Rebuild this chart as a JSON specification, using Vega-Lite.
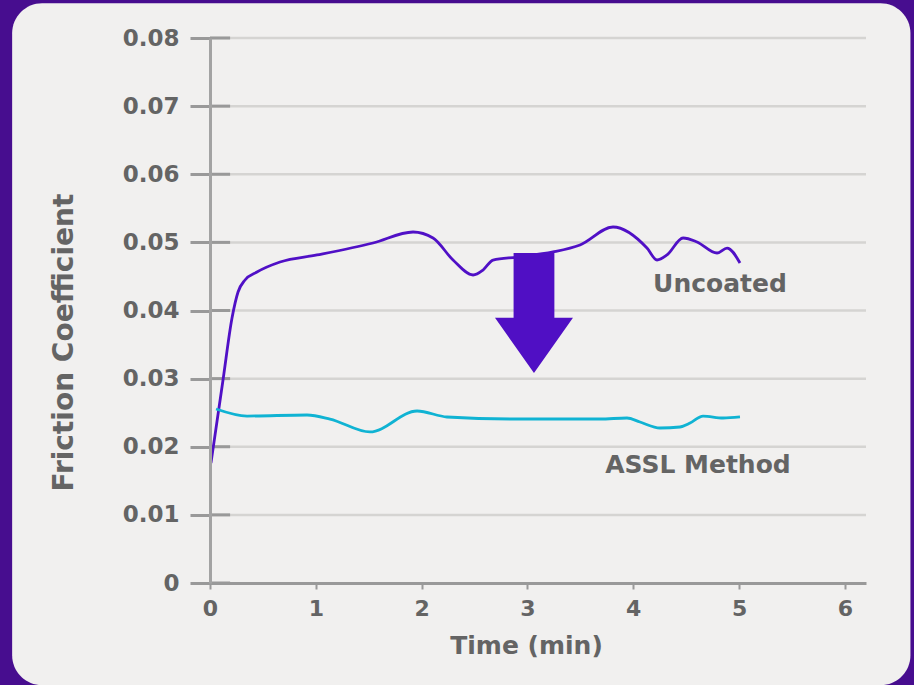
{
  "$schema": "https://vega.github.io/schema/vega-lite/v6.json",
  "autosize": "none",
  "width": 656,
  "height": 545,
  "padding": {"left": 210, "top": 38, "right": 48, "bottom": 102},
  "background": "#470d8f",
  "config": {
    "font": "DejaVu Sans",
    "view": {"stroke": null}
  },
  "datasets": {
    "panel": [{"x": -1.87, "x2": 6.62, "y": 0.0851, "y2": -0.0150}],
    "grid": [
      {"y": 0.01, "x": 0, "x2": 6.2}, {"y": 0.02, "x": 0, "x2": 6.2},
      {"y": 0.03, "x": 0, "x2": 6.2}, {"y": 0.04, "x": 0, "x2": 6.2},
      {"y": 0.05, "x": 0, "x2": 6.2}, {"y": 0.06, "x": 0, "x2": 6.2},
      {"y": 0.07, "x": 0, "x2": 6.2}, {"y": 0.08, "x": 0, "x2": 6.2}
    ],
    "ticks": [
      {"y": 0, "x": 0, "x2": 0.19}, {"y": 0.01, "x": 0, "x2": 0.19},
      {"y": 0.02, "x": 0, "x2": 0.19}, {"y": 0.03, "x": 0, "x2": 0.19},
      {"y": 0.04, "x": 0, "x2": 0.19}, {"y": 0.05, "x": 0, "x2": 0.19},
      {"y": 0.06, "x": 0, "x2": 0.19}, {"y": 0.07, "x": 0, "x2": 0.19},
      {"y": 0.08, "x": 0, "x2": 0.19}
    ],
    "series": [
      {"series": "Uncoated", "x": 0.009, "y": 0.01761},
      {"series": "Uncoated", "x": 0.123, "y": 0.0298},
      {"series": "Uncoated", "x": 0.208, "y": 0.0389},
      {"series": "Uncoated", "x": 0.265, "y": 0.04272},
      {"series": "Uncoated", "x": 0.331, "y": 0.04448},
      {"series": "Uncoated", "x": 0.444, "y": 0.04565},
      {"series": "Uncoated", "x": 0.662, "y": 0.04712},
      {"series": "Uncoated", "x": 1.011, "y": 0.04815},
      {"series": "Uncoated", "x": 1.541, "y": 0.04991},
      {"series": "Uncoated", "x": 1.919, "y": 0.05152},
      {"series": "Uncoated", "x": 2.108, "y": 0.05064},
      {"series": "Uncoated", "x": 2.297, "y": 0.04741},
      {"series": "Uncoated", "x": 2.486, "y": 0.04521},
      {"series": "Uncoated", "x": 2.58, "y": 0.04594},
      {"series": "Uncoated", "x": 2.675, "y": 0.04741},
      {"series": "Uncoated", "x": 2.902, "y": 0.04785},
      {"series": "Uncoated", "x": 3.242, "y": 0.04859},
      {"series": "Uncoated", "x": 3.497, "y": 0.04962},
      {"series": "Uncoated", "x": 3.809, "y": 0.05226},
      {"series": "Uncoated", "x": 4.13, "y": 0.04917},
      {"series": "Uncoated", "x": 4.225, "y": 0.04741},
      {"series": "Uncoated", "x": 4.319, "y": 0.04815},
      {"series": "Uncoated", "x": 4.471, "y": 0.05064},
      {"series": "Uncoated", "x": 4.603, "y": 0.05006},
      {"series": "Uncoated", "x": 4.792, "y": 0.04844},
      {"series": "Uncoated", "x": 4.887, "y": 0.04917},
      {"series": "Uncoated", "x": 5.009, "y": 0.04697},
      {"series": "ASSL Method", "x": 0.057, "y": 0.02554},
      {"series": "ASSL Method", "x": 0.35, "y": 0.02451},
      {"series": "ASSL Method", "x": 0.917, "y": 0.02466},
      {"series": "ASSL Method", "x": 1.134, "y": 0.02407},
      {"series": "ASSL Method", "x": 1.512, "y": 0.02217},
      {"series": "ASSL Method", "x": 1.957, "y": 0.02525},
      {"series": "ASSL Method", "x": 2.24, "y": 0.02437},
      {"series": "ASSL Method", "x": 2.864, "y": 0.02407},
      {"series": "ASSL Method", "x": 3.497, "y": 0.02407},
      {"series": "ASSL Method", "x": 3.686, "y": 0.02407},
      {"series": "ASSL Method", "x": 3.941, "y": 0.02422},
      {"series": "ASSL Method", "x": 4.064, "y": 0.02363},
      {"series": "ASSL Method", "x": 4.253, "y": 0.02275},
      {"series": "ASSL Method", "x": 4.442, "y": 0.0229},
      {"series": "ASSL Method", "x": 4.537, "y": 0.02348},
      {"series": "ASSL Method", "x": 4.66, "y": 0.02451},
      {"series": "ASSL Method", "x": 4.849, "y": 0.02422},
      {"series": "ASSL Method", "x": 5.009, "y": 0.02437}
    ],
    "arrow": [{"x": 3.062, "y": 0.03963}],
    "labels": [
      {"label": "Uncoated", "x": 4.82, "y": 0.04389},
      {"label": "ASSL Method", "x": 4.612, "y": 0.01732}
    ]
  },
  "encoding": {
    "x": {
      "field": "x",
      "type": "quantitative",
      "scale": {"domain": [0, 6.2], "nice": false, "zero": false},
      "axis": {
        "zindex": 1,
        "values": [0, 1, 2, 3, 4, 5, 6],
        "title": "Time (min)",
        "grid": false,
        "labelFlush": false,
        "domainColor": "#999999",
        "domainWidth": 3,
        "tickColor": "#999999",
        "tickWidth": 2,
        "tickSize": 6,
        "labelFont": "DejaVu Sans",
        "labelFontWeight": "bold",
        "labelFontSize": 22,
        "labelColor": "#646464",
        "labelPadding": 9,
        "titleFont": "DejaVu Sans",
        "titleFontWeight": "bold",
        "titleFontSize": 25,
        "titleColor": "#646464",
        "titlePadding": 14,
        "titleX": 316
      }
    },
    "y": {
      "field": "y",
      "type": "quantitative",
      "scale": {"domain": [0, 0.08], "nice": false, "zero": false},
      "axis": {
        "zindex": 1,
        "values": [0, 0.01, 0.02, 0.03, 0.04, 0.05, 0.06, 0.07, 0.08],
        "labelExpr": "datum.value == 0 ? '0' : format(datum.value, '.2f')",
        "title": "Friction Coefficient",
        "grid": false,
        "domainColor": "#a3a3a3",
        "domainWidth": 3,
        "tickColor": "#999999",
        "tickWidth": 3,
        "tickSize": 20,
        "labelFont": "DejaVu Sans",
        "labelFontWeight": "bold",
        "labelFontSize": 23,
        "labelColor": "#646464",
        "labelPadding": 11,
        "titleFont": "DejaVu Sans",
        "titleFontWeight": "bold",
        "titleFontSize": 28,
        "titleColor": "#646464",
        "titlePadding": 44,
        "titleY": 304
      }
    }
  },
  "layer": [
    {
      "data": {"name": "panel"},
      "mark": {"type": "rect", "fill": "#f1f0ef", "cornerRadius": 30, "clip": false},
      "encoding": {
        "x2": {"field": "x2"},
        "y2": {"field": "y2"}
      }
    },
    {
      "data": {"name": "grid"},
      "mark": {"type": "rule", "color": "#d5d4d2", "strokeWidth": 2.5},
      "encoding": {
        "x2": {"field": "x2"}
      }
    },
    {
      "data": {"name": "ticks"},
      "mark": {"type": "rule", "color": "#999999", "strokeWidth": 3},
      "encoding": {
        "x2": {"field": "x2"}
      }
    },
    {
      "data": {"name": "series"},
      "mark": {"type": "line", "interpolate": "monotone", "strokeWidth": 2.8},
      "encoding": {
        "color": {
          "field": "series",
          "type": "nominal",
          "scale": {"domain": ["Uncoated", "ASSL Method"], "range": ["#5010c6", "#10b3d3"]},
          "legend": null
        }
      }
    },
    {
      "data": {"name": "arrow"},
      "mark": {
        "type": "point",
        "shape": "M-0.34,-1 L0.34,-1 L0.34,0.08 L0.65,0.08 L0,1 L-0.65,0.08 L-0.34,0.08 Z",
        "size": 14400,
        "filled": true,
        "fill": "#500fc4",
        "strokeWidth": 0,
        "opacity": 1
      },
      "encoding": {}
    },
    {
      "data": {"name": "labels"},
      "mark": {"type": "text", "font": "DejaVu Sans", "fontWeight": "bold", "fontSize": 25, "color": "#646464", "align": "center", "baseline": "middle"},
      "encoding": {
        "text": {"field": "label"}
      }
    }
  ]
}
